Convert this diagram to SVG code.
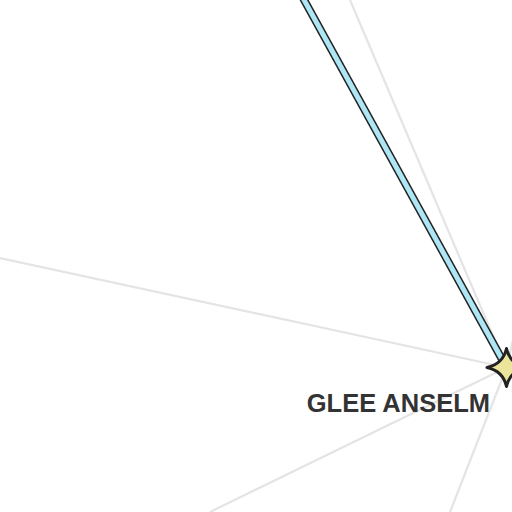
<svg xmlns="http://www.w3.org/2000/svg" width="512" height="512" viewBox="0 0 512 512">
<style>
.bg{stroke:#e4e4e4;stroke-width:2.2;fill:none}
.edge-out{stroke:#222;stroke-width:8;fill:none}
.edge-in{stroke:#ade7f6;stroke-width:5;fill:none}
.star{fill:#ede49c;stroke:#222;stroke-width:3;stroke-linejoin:round}
.label{font-family:"Liberation Sans",Arial,sans-serif;font-weight:bold;font-size:25.5px;fill:#333}
</style>
<rect width="512" height="512" fill="#fff"/>
<g id="connectors">
<line class="bg" x1="0" y1="258" x2="506.5" y2="367.5"/>
<line class="bg" x1="350" y1="0" x2="506.5" y2="367.5"/>
<line class="bg" x1="210" y1="512" x2="506.5" y2="367.5"/>
<line class="bg" x1="450" y1="512" x2="506.5" y2="367.5"/>
<line class="bg" x1="520" y1="310" x2="506.5" y2="367.5"/>
<line class="edge-out" x1="303" y1="-2" x2="506.5" y2="367.5"/>
<line class="edge-in" x1="303" y1="-2" x2="506.5" y2="367.5"/>
</g>
<g id="node-glee-anselm">
<path class="star" d="M506.5 348.5 Q510 364 526 367.5 Q510 371 506.5 386.5 Q503 371 487 367.5 Q503 364 506.5 348.5 Z"/>
<text class="label" x="490" y="411.5" text-anchor="end">GLEE ANSELM</text>
</g>
</svg>
